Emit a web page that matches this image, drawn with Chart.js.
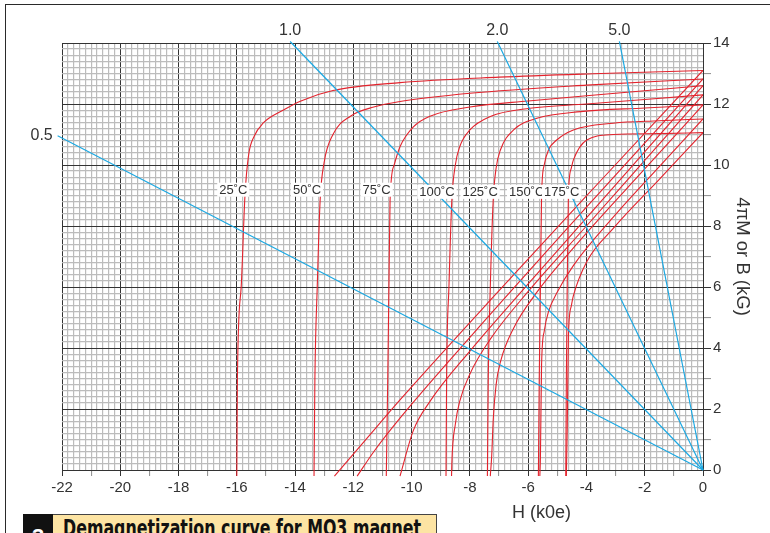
<!DOCTYPE html>
<html>
<head>
<meta charset="utf-8">
<title>Demagnetization curve for MQ3 magnet</title>
<script src="https://cdn.jsdelivr.net/npm/chart.js@4.4.1/dist/chart.umd.min.js"></script>
<style>
    html, body { margin: 0; padding: 0; background: #fff; overflow: hidden; }
    #page { position: relative; width: 770px; height: 533px; overflow: hidden; }
    #frame { position: absolute; left: 5px; top: 4px; width: 900px; height: 700px;
             border-top: 1.5px solid #2a2a2a; border-left: 1.5px solid #2a2a2a; }
    canvas { position: absolute; left: 0; top: 0; }
    #capNum { position: absolute; left: 23px; top: 514px; width: 30px; height: 30px; background: #111;
              color: #fff; font: bold 22px "Liberation Sans", Arial, sans-serif; text-align: center;
              line-height: 22px; padding-top: 12px; box-sizing: border-box; }
    #capBox { position: absolute; left: 53px; top: 514px; width: 383px; height: 30px; background: #fde4a3;
              border-top: 1px solid #444; border-right: 1px solid #444; }
    #capText { position: absolute; left: 10px; top: 1.5px; white-space: nowrap; color: #111;
               font: bold 23px "Liberation Sans Narrow", "DejaVu Sans Condensed", "Arial Narrow", sans-serif;
               line-height: 23px; transform-origin: 0 0; display: inline-block; }
</style>
</head>
<body>
<div id="page">
    <div id="frame"></div>
    <canvas id="chart1" width="770" height="533"></canvas>
    <div id="capNum">3</div>
    <div id="capBox"><span id="capText">Demagnetization curve for MQ3 magnet</span></div>
</div>
<script>
/*
    1. The data.
    Intrinsic curves (4πM) and normal curves (B) for each temperature, as [H, value] pairs in kOe / kG.
*/
const tempLabels = ['25˚C', '50˚C', '75˚C', '100˚C', '125˚C', '150˚C', '175˚C'];

const m25  = [[-16.0,-0.2],[-15.98,3],[-15.85,6],[-15.72,9],[-15.6,10.3],[-15.4,10.95],[-15.1,11.37],[-14.4,11.8],[-13.8,12.1],[-12.7,12.44],[-10.4,12.7],[-7,12.88],[-3.5,13.0],[0,13.1]];
const m50  = [[-13.35,-0.2],[-13.32,3],[-13.24,6],[-13.14,8.85],[-13.0,10.1],[-12.7,11.0],[-12.1,11.6],[-11.3,11.9],[-10.4,12.08],[-8,12.35],[-4,12.62],[0,12.82]];
const m75  = [[-10.87,-0.2],[-10.82,3],[-10.78,6],[-10.74,8.85],[-10.6,10.0],[-10.4,10.6],[-9.94,11.25],[-9.37,11.6],[-8,11.9],[-6,12.1],[-3,12.35],[0,12.6]];
const m100 = [[-8.82,-0.2],[-8.8,3],[-8.72,6],[-8.62,8.85],[-8.5,10.0],[-8.35,10.6],[-8.0,11.15],[-7.3,11.59],[-5.94,11.86],[-4,12.0],[-2,12.15],[0,12.3]];
const m125 = [[-7.4,-0.2],[-7.37,3],[-7.3,6],[-7.2,8.85],[-7.1,9.9],[-6.95,10.5],[-6.5,11.15],[-5.7,11.53],[-4.2,11.75],[-2,11.87],[0,11.97]];
const m150 = [[-5.65,-0.2],[-5.62,3],[-5.58,6],[-5.54,9.0],[-5.45,10.0],[-5.3,10.5],[-5.02,10.82],[-4.45,11.15],[-3.08,11.37],[-1.5,11.45],[0,11.51]];
const m175 = [[-4.71,-0.2],[-4.69,3],[-4.66,6],[-4.62,9.0],[-4.52,9.9],[-4.45,10.16],[-3.99,10.82],[-3.08,11.0],[-1.5,11.03],[0,11.06]];

const b25  = [[-12.65,-0.2],[-11.5,1.08],[-10.4,2.3],[-7,5.88],[-3.5,9.5],[0,13.1]];
const b50  = [[-11.87,-0.2],[-11.3,0.6],[-10.4,1.7],[-8,4.35],[-4,8.62],[0,12.82]];
const b75  = [[-10.4,-0.2],[-9.94,1.3],[-9.37,2.25],[-8,3.9],[-6,6.1],[-3,9.35],[0,12.6]];
const b100 = [[-8.63,-0.2],[-8.62,0.23],[-8.5,1.5],[-8.35,2.25],[-8.0,3.15],[-7.3,4.29],[-5.94,5.92],[-4,8.0],[-2,10.15],[0,12.3]];
const b125 = [[-7.3,-0.2],[-7.25,0.5],[-7.2,1.65],[-7.1,2.8],[-6.95,3.55],[-6.5,4.65],[-5.7,5.83],[-4.2,7.55],[-2,9.87],[0,11.97]];
const b150 = [[-5.6,-0.2],[-5.58,0.42],[-5.54,3.46],[-5.45,4.55],[-5.3,5.2],[-5.02,5.8],[-4.45,6.7],[-3.08,8.29],[-1.5,9.95],[0,11.51]];
const b175 = [[-4.69,-0.2],[-4.66,1.34],[-4.62,4.38],[-4.52,5.38],[-4.45,5.71],[-3.99,6.83],[-3.08,7.92],[-1.5,9.53],[0,11.06]];

const intrinsicCurves = [m25, m50, m75, m100, m125, m150, m175];
const normalCurves = [b25, b50, b75, b100, b125, b150, b175];

// Load lines (permeance coefficients) run from the origin to these ends
const permeance = ['0.5', '1.0', '2.0', '5.0'];
const loadLineEnds = [[-22.15, 10.96], [-14.17, 14.05], [-7.06, 14.05], [-2.87, 14.05]];

// Tick labels
const xTickLabels = [-22, -20, -18, -16, -14, -12, -10, -8, -6, -4, -2, 0];
const yTickLabels = [0, 2, 4, 6, 8, 10, 12, 14];
const xTitle = 'H (k0e)';
const yTitle = '4πM or B (kG)';

// where the temperature tags sit (H, kG)
const tempLabelAt = [[-16.12, 9.19], [-13.59, 9.19], [-11.2, 9.19], [-9.13, 9.12], [-7.65, 9.12], [-6.05, 9.12], [-4.85, 9.12]];

/*
    2. Styles and helpers for the graph paper grid
*/
const FONT = '"Liberation Sans", Arial, Helvetica, sans-serif';
const RED = '#e3232d';
const BLUE = '#1ba8e2';

function fifths(v) { return Math.round(v * 5); }
function gridColor(c) {
    if (!c.tick) return '#333';
    return fifths(c.tick.value) % 10 === 0 ? '#333' : '#bcbcbc';
}
function gridWidth(c) {
    if (!c.tick) return 1;
    return fifths(c.tick.value) % 10 === 0 ? 1 : 1.2;
}
function tickMarkColor(c) {
    if (!c.tick) return '#333';
    const f = fifths(c.tick.value);
    if (f % 10 === 0) return '#333';
    if (f % 5 === 0) return '#8c8c8c';
    return 'rgba(0,0,0,0)';
}

// Text that is not an axis title: temperature tags, permeance values, x axis title
const overlayText = {
    id: 'overlayText',
    afterDatasetsDraw(chart) {
        const {ctx, chartArea, scales: {x, y}} = chart;
        ctx.save();
        ctx.textAlign = 'center';
        ctx.textBaseline = 'middle';

        ctx.font = '13px ' + FONT;
        tempLabels.forEach((t, i) => {
            const px = x.getPixelForValue(tempLabelAt[i][0]);
            const py = y.getPixelForValue(tempLabelAt[i][1]);
            const w = ctx.measureText(t).width + 4;
            ctx.fillStyle = '#fff';
            ctx.fillRect(px - w / 2, py - 7, w, 14);
            ctx.fillStyle = '#333';
            ctx.fillText(t, px, py + 1);
        });

        ctx.font = '16px ' + FONT;
        permeance.forEach((p, i) => {
            let px = x.getPixelForValue(loadLineEnds[i][0]);
            let py = y.getPixelForValue(loadLineEnds[i][1]);
            if (loadLineEnds[i][1] >= y.max) py -= 11;
            else px -= 16;
            ctx.fillText(p, px, py);
        });

        ctx.font = '18px ' + FONT;
        ctx.fillText(xTitle, x.getPixelForValue(-5.54), chartArea.bottom + 43);
        ctx.restore();
    }
};

/*
    3. Datasets and config
*/
const datasets = [];
loadLineEnds.forEach((end, i) => {
    datasets.push({
        label: 'Pc ' + permeance[i],
        data: [{x: 0, y: 0}, {x: end[0], y: end[1]}],
        borderColor: BLUE,
        borderWidth: 1.2,
        pointRadius: 0,
        clip: false
    });
});
tempLabels.forEach((t, i) => {
    datasets.push({
        label: '4πM ' + t,
        data: intrinsicCurves[i].map(p => ({x: p[0], y: p[1]})),
        borderColor: RED,
        borderWidth: 1.1,
        pointRadius: 0,
        cubicInterpolationMode: 'monotone',
        clip: {left: 0, top: 0, right: 0, bottom: 8}
    });
    datasets.push({
        label: 'B ' + t,
        data: normalCurves[i].map(p => ({x: p[0], y: p[1]})),
        borderColor: RED,
        borderWidth: 1.1,
        pointRadius: 0,
        cubicInterpolationMode: 'monotone',
        clip: {left: 0, top: 0, right: 0, bottom: 8}
    });
});

const config = {
    type: 'line',
    data: { datasets: datasets },
    options: {
        responsive: false,
        animation: false,
        devicePixelRatio: 1,
        layout: { padding: {left: 62, top: 43, right: 0, bottom: 0} },
        plugins: { legend: {display: false}, tooltip: {enabled: false} },
        scales: {
            x: {
                type: 'linear',
                min: -22,
                max: 0,
                afterFit(scale) { scale.height = 63; },
                border: { color: '#333', width: 1 },
                grid: {
                    color: gridColor,
                    lineWidth: gridWidth,
                    tickColor: tickMarkColor,
                    tickWidth: 1,
                    tickLength: 6
                },
                ticks: {
                    stepSize: 0.2,
                    autoSkip: false,
                    maxRotation: 0,
                    padding: 3,
                    color: '#333',
                    font: {family: FONT, size: 15},
                    callback: v => xTickLabels.includes(Math.round(v)) && fifths(v) % 5 === 0 ? String(Math.round(v)) : ''
                }
            },
            y: {
                type: 'linear',
                position: 'right',
                min: 0,
                max: 14,
                afterFit(scale) { scale.width = 67; },
                border: { color: '#333', width: 1 },
                grid: {
                    color: gridColor,
                    lineWidth: gridWidth,
                    tickColor: tickMarkColor,
                    tickWidth: 1,
                    tickLength: 8
                },
                ticks: {
                    stepSize: 0.2,
                    autoSkip: false,
                    padding: 2,
                    color: '#333',
                    font: {family: FONT, size: 15},
                    callback: v => yTickLabels.includes(Math.round(v)) && fifths(v) % 5 === 0 ? String(Math.round(v)) : ''
                },
                title: {
                    display: true,
                    text: yTitle,
                    color: '#333',
                    font: {family: FONT, size: 18.5},
                    padding: {top: 17, bottom: 0}
                }
            }
        }
    },
    plugins: [overlayText]
};

const context = document.getElementById('chart1').getContext('2d');
const chart1 = new Chart(context, config);

// squeeze the caption into the width of the printed one
const cap = document.getElementById('capText');
cap.style.transform = 'scaleX(' + (358 / cap.getBoundingClientRect().width) + ')';
</script>
</body>
</html>
